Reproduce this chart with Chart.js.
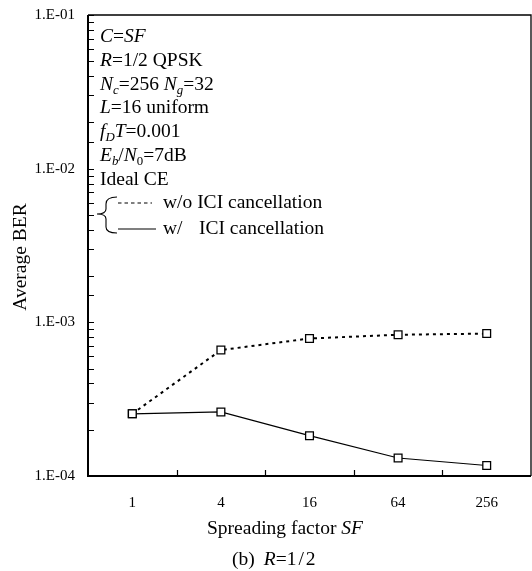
<!DOCTYPE html>
<html>
<head>
<meta charset="utf-8">
<script src="https://cdn.jsdelivr.net/npm/chart.js@4/dist/chart.umd.min.js"></script>
<style>
html, body { margin: 0; padding: 0; background: #fff; overflow: hidden; }
#wrap { width: 532px; height: 571px; }
</style>
</head>
<body>
<div id="wrap"><canvas id="berChart"></canvas></div>
<script>
// data
const categories = ['1', '4', '16', '64', '256'];
const berWithout = [2.54e-4, 6.6e-4, 7.85e-4, 8.3e-4, 8.45e-4];
const berWith = [2.54e-4, 2.61e-4, 1.83e-4, 1.31e-4, 1.17e-4];
const yMin = 1e-4;
const yMax = 1e-1;

// text runs: [text, style]  n = normal, i = italic, s = subscript
const noteLines = [
  [['C', 'i'], ['=', 'n'], ['SF', 'i']],
  [['R', 'i'], ['=1/2 QPSK', 'n']],
  [['N', 'i'], ['c', 'is'], ['=256 ', 'n'], ['N', 'i'], ['g', 'is'], ['=32', 'n']],
  [['L', 'i'], ['=16 uniform', 'n']],
  [['f', 'i'], ['D', 'is'], ['T', 'i'], ['=0.001', 'n']],
  [['E', 'i'], ['b', 'is'], ['/', 'n'], ['N', 'i'], ['0', 'ns'], ['=7dB', 'n']],
  [['Ideal CE', 'n']]
];
const legendLabels = ['w/o', 'w/', 'ICI cancellation'];

const serif = '"Liberation Serif", "DejaVu Serif", serif';
const FS = 19.5;

function drawRuns(ctx, x, y, runs, size) {
  for (const [t, st] of runs) {
    const it = st.includes('i');
    const sub = st.includes('s');
    const fs = sub ? size * 0.66 : size;
    ctx.font = (it ? 'italic ' : '') + fs + 'px ' + serif;
    ctx.fillText(t, x, sub ? y + size * 0.22 : y);
    x += ctx.measureText(t).width;
  }
  return x;
}

const extras = {
  id: 'extras',
  afterDraw(chart) {
    const ctx = chart.ctx;
    const a = chart.chartArea;
    const ys = chart.scales.y;
    const xs = chart.scales.x;
    ctx.save();
    ctx.strokeStyle = '#000';
    ctx.fillStyle = '#000';

    // frame
    ctx.lineWidth = 1.3;
    ctx.beginPath();
    ctx.moveTo(a.left, a.top); ctx.lineTo(a.right, a.top); ctx.lineTo(a.right, a.bottom);
    ctx.stroke();
    ctx.lineWidth = 2;
    ctx.beginPath();
    ctx.moveTo(a.left, a.top); ctx.lineTo(a.left, a.bottom); ctx.lineTo(a.right, a.bottom);
    ctx.stroke();

    // inward ticks on y (log minor ticks too)
    ctx.lineWidth = 1.2;
    ctx.beginPath();
    ys.ticks.forEach(t => {
      const p = Math.round(ys.getPixelForValue(t.value)) + 0.5;
      ctx.moveTo(a.left, p); ctx.lineTo(a.left + 6, p);
    });
    // inward ticks between categories on x
    for (let i = 0; i < categories.length - 1; i++) {
      const p = Math.round((xs.getPixelForValue(i) + xs.getPixelForValue(i + 1)) / 2) + 0.5;
      ctx.moveTo(p, a.bottom); ctx.lineTo(p, a.bottom - 6);
    }
    ctx.stroke();

    // notes
    ctx.textAlign = 'left';
    ctx.textBaseline = 'alphabetic';
    const centers = [35, 59, 83, 106, 130, 154, 178];
    noteLines.forEach((runs, i) => drawRuns(ctx, 100, centers[i] + 6.5, runs, FS));

    // legend with brace
    const yA = 203, yB = 229;
    ctx.lineWidth = 1.1;
    ctx.beginPath();
    ctx.moveTo(117, 197);
    ctx.quadraticCurveTo(106, 197, 106, 204);
    ctx.lineTo(106, 209);
    ctx.quadraticCurveTo(106, 214, 97, 214);
    ctx.quadraticCurveTo(106, 214, 106, 219);
    ctx.lineTo(106, 227);
    ctx.quadraticCurveTo(106, 233, 117, 233);
    ctx.stroke();

    ctx.lineWidth = 1.2;
    ctx.setLineDash([3.5, 3]);
    ctx.beginPath(); ctx.moveTo(118, yA); ctx.lineTo(152, yA); ctx.stroke();
    ctx.setLineDash([]);
    ctx.beginPath(); ctx.moveTo(118, yB); ctx.lineTo(156, yB); ctx.stroke();

    ctx.font = FS + 'px ' + serif;
    ctx.textBaseline = 'middle';
    ctx.fillText(legendLabels[0] + ' ' + legendLabels[2], 163, yA);
    ctx.fillText(legendLabels[1], 163, yB);
    ctx.fillText(legendLabels[2], 199, yB);

    // y title
    ctx.save();
    ctx.translate(21, 257);
    ctx.rotate(-Math.PI / 2);
    ctx.textAlign = 'center';
    ctx.fillText('Average BER', 0, 0);
    ctx.restore();

    // x title: Spreading factor SF
    ctx.textBaseline = 'middle';
    ctx.textAlign = 'left';
    ctx.font = FS + 'px ' + serif;
    const t1 = 'Spreading factor ';
    const w1 = ctx.measureText(t1).width;
    ctx.font = 'italic ' + FS + 'px ' + serif;
    const w2 = ctx.measureText('SF').width;
    let x0 = 285 - (w1 + w2) / 2;
    drawRuns(ctx, x0, 529, [[t1, 'n'], ['SF', 'i']], FS);

    // caption (b) R=1/2
    ctx.font = FS + 'px ' + serif;
    let cx = 232;
    cx = drawRuns(ctx, cx, 560, [['(b)', 'n']], FS) + 9;
    cx = drawRuns(ctx, cx, 560, [['R', 'i'], ['=1', 'n']], FS) + 2;
    cx = drawRuns(ctx, cx, 560, [['/', 'n']], FS) + 2;
    drawRuns(ctx, cx, 560, [['2', 'n']], FS);

    ctx.restore();
  }
};

new Chart(document.getElementById('berChart'), {
  type: 'line',
  data: {
    labels: categories,
    datasets: [
      {
        label: 'w/o ICI cancellation',
        data: berWithout,
        borderColor: '#000',
        borderWidth: 2,
        borderDash: [3, 4],
        pointStyle: 'rect',
        pointRadius: 5.5,
        pointBorderWidth: 1.3,
        pointBorderColor: '#000',
        pointBackgroundColor: '#fff',
        tension: 0
      },
      {
        label: 'w/ ICI cancellation',
        data: berWith,
        borderColor: '#000',
        borderWidth: 1.2,
        pointStyle: 'rect',
        pointRadius: 5.5,
        pointBorderWidth: 1.3,
        pointBorderColor: '#000',
        pointBackgroundColor: '#fff',
        tension: 0
      }
    ]
  },
  options: {
    responsive: true,
    maintainAspectRatio: false,
    animation: false,
    layout: { autoPadding: false, padding: { top: 15, right: 1, left: 0, bottom: 0 } },
    plugins: {
      legend: { display: false },
      tooltip: { enabled: false }
    },
    scales: {
      x: {
        type: 'category',
        offset: true,
        grid: { display: false, drawTicks: false },
        border: { display: false },
        ticks: {
          color: '#000',
          padding: 18,
          font: { family: serif, size: 15 }
        },
        afterFit(s) {
          s.height = 95;
          s.paddingLeft = 0;
          s.paddingRight = 0;
        }
      },
      y: {
        type: 'logarithmic',
        min: yMin,
        max: yMax,
        grid: { display: false, drawTicks: false },
        border: { display: false },
        ticks: {
          color: '#000',
          padding: 13,
          autoSkip: false,
          font: { family: serif, size: 15 },
          callback(v) {
            const e = Math.log10(v);
            if (Math.abs(e - Math.round(e)) < 1e-6) {
              return '1.E-0' + (-Math.round(e));
            }
            return '';
          }
        },
        afterFit(s) {
          s.width = 88;
          s.paddingTop = 0;
          s.paddingBottom = 0;
        }
      }
    }
  },
  plugins: [extras]
});
</script>
</body>
</html>
